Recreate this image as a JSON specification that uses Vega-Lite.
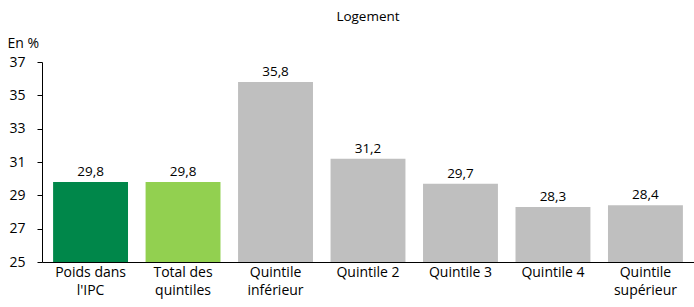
{
  "$schema": "https://vega.github.io/schema/vega-lite/v6.json",
  "width": 652,
  "height": 200,
  "autosize": "none",
  "padding": {"left": 42, "top": 62, "right": 0, "bottom": 45},
  "background": "white",
  "config": {"view": {"stroke": null}, "font": "Open Sans",
    "locale": {"number": {"decimal": ",", "thousands": " ", "grouping": [3], "currency": ["", " €"]}}},
  "title": {"text": "Logement", "anchor": "middle", "frame": "group", "fontSize": 13.5, "fontWeight": "normal", "color": "black", "font": "Open Sans", "offset": 13},
  "data": {"values": [
    {"cat": "Poids dans|l'IPC", "val": 29.8, "grp": "a"},
    {"cat": "Total des|quintiles", "val": 29.8, "grp": "b"},
    {"cat": "Quintile|inférieur", "val": 35.8, "grp": "c"},
    {"cat": "Quintile 2", "val": 31.2, "grp": "c"},
    {"cat": "Quintile 3", "val": 29.7, "grp": "c"},
    {"cat": "Quintile 4", "val": 28.3, "grp": "c"},
    {"cat": "Quintile|supérieur", "val": 28.4, "grp": "c"}
  ]},
  "encoding": {
    "x": {"field": "cat", "type": "nominal", "sort": null,
      "scale": {"paddingInner": 0.19, "paddingOuter": 0.12},
      "axis": {"title": null, "labelAngle": 0, "labelExpr": "split(datum.value, '|')", "labelFontSize": 14, "labelColor": "black", "labelPadding": 3, "ticks": false, "domainColor": "black", "domainWidth": 1, "labelLineHeight": 18.5}},
    "y": {"field": "val", "type": "quantitative",
      "scale": {"domain": [25, 37], "nice": false, "zero": false},
      "axis": {"values": [25, 27, 29, 31, 33, 35, 37], "grid": false, "domainColor": "black", "tickColor": "black", "tickSize": 5, "labelFontSize": 14, "labelColor": "black", "labelPadding": 12, "title": "En %", "titleAngle": 0, "titleFontSize": 14, "titleFontWeight": "normal", "titleColor": "black", "titleX": -35, "titleY": -12, "titleAlign": "left", "titleBaseline": "bottom"}}
  },
  "layer": [
    {"mark": {"type": "bar", "clip": true},
      "encoding": {"color": {"field": "grp", "type": "nominal", "legend": null,
        "scale": {"domain": ["a", "b", "c"], "range": ["#00874A", "#92D050", "#BFBFBF"]}}}},
    {"mark": {"type": "text", "dy": -10, "fontSize": 13.5, "color": "black"},
      "encoding": {"text": {"field": "val", "type": "quantitative", "format": ".1f"}}}
  ]
}
